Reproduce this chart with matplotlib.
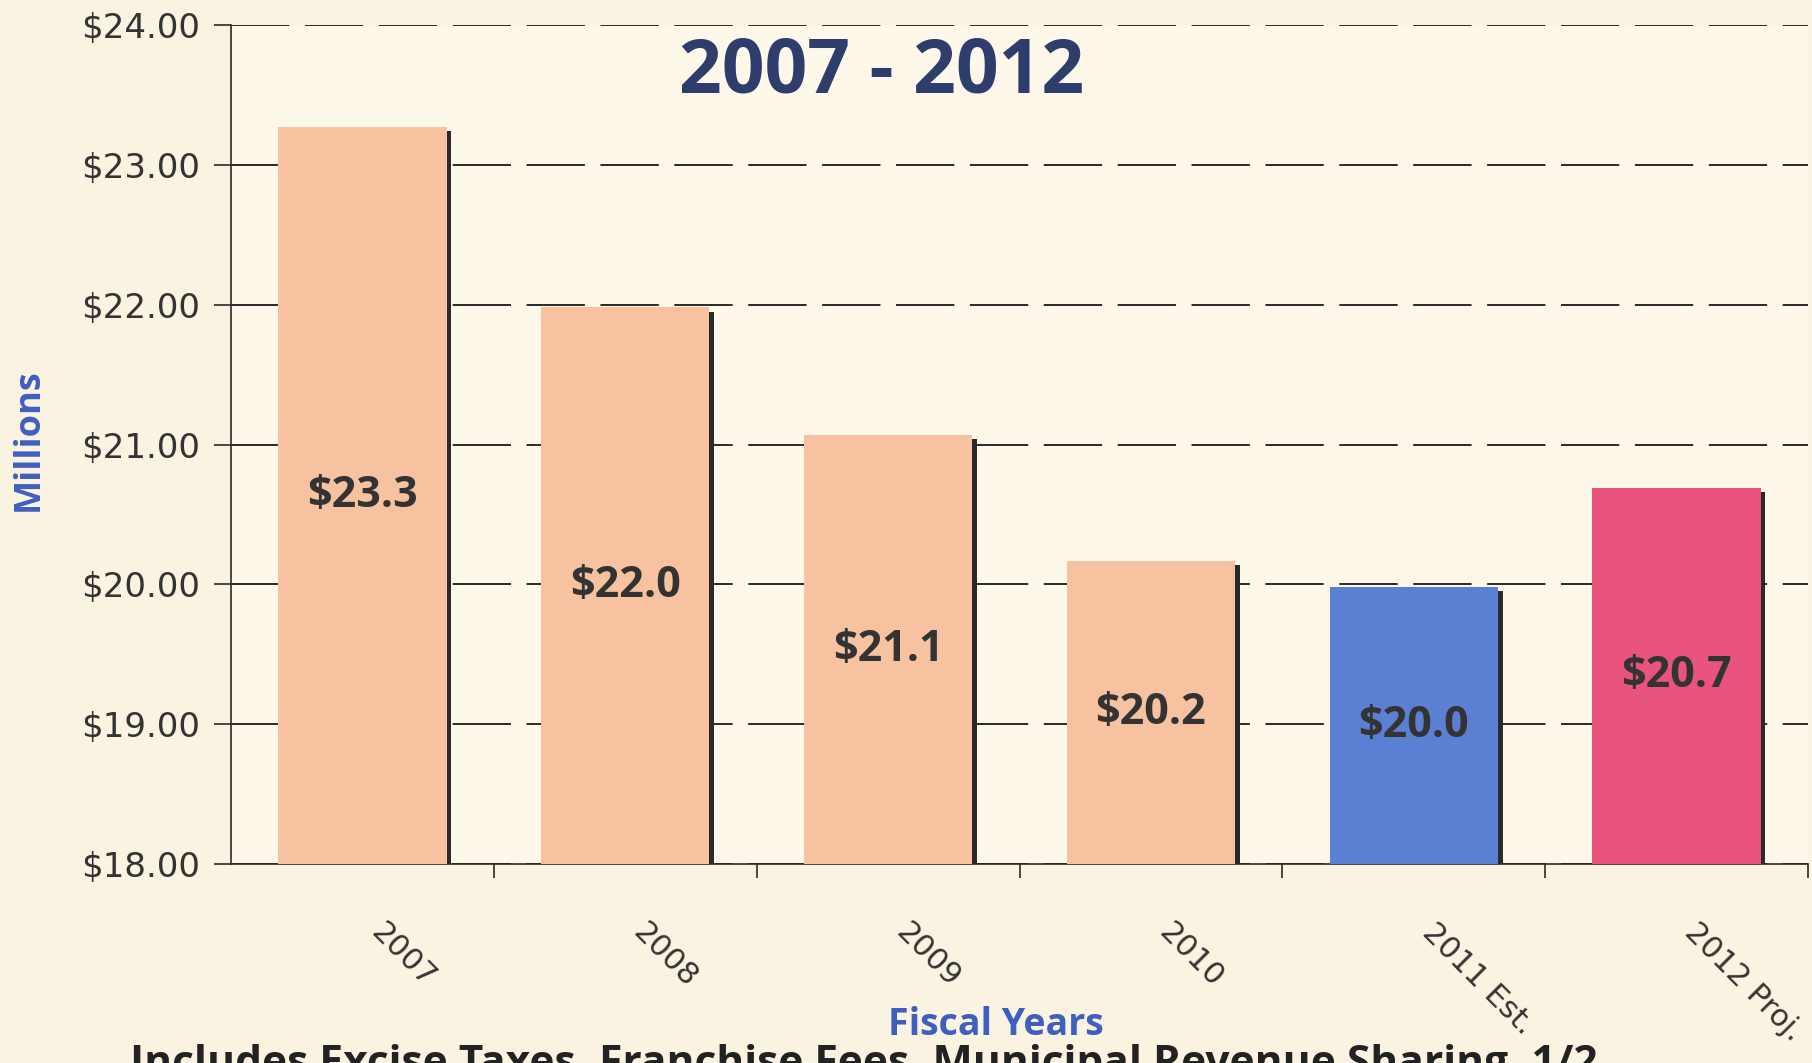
import matplotlib.pyplot as plt
from matplotlib.transforms import ScaledTranslation

years = ['2007', '2008', '2009', '2010', '2011 Est.', '2012 Proj.']
revenue = [23.27, 21.98, 21.07, 20.17, 19.98, 20.69]
bar_colors = ['#F6C29F', '#F6C29F', '#F6C29F', '#F6C29F', '#5B80D3', '#E9547D']
y_ticks = [18, 19, 20, 21, 22, 23, 24]

bg = '#FBF3E1'
txt = '#333333'
blue = '#3F5FBF'

fig = plt.figure(figsize=(18.12, 10.63), dpi=100, facecolor=bg)
ax = fig.add_axes([231 / 1812, 1 - 864 / 1063, 1577 / 1812, 839 / 1063])
ax.set_facecolor('#FDF8EA')

x = list(range(len(years)))
width = 0.64
base = 18.0

# dark edge on the right of each bar, then the bar itself
ax.bar([i + 0.018 for i in x], [v - base - 0.03 for v in revenue], width=width,
       bottom=base, color='#2A2A2A', zorder=2)
ax.bar(x, [v - base for v in revenue], width=width, bottom=base,
       color=bar_colors, zorder=3)

for i, v in zip(x, revenue):
    ax.text(i, (v + base) / 2, '$%.1f' % v, ha='center', va='center',
            fontsize=31, fontweight='bold', family='Open Sans', color=txt, zorder=4)

ax.set_xlim(-0.5, len(years) - 0.5)
ax.set_ylim(18, 24)
ax.set_yticks(y_ticks)
ax.set_yticklabels(['$%.2f' % t for t in y_ticks])
ax.yaxis.grid(True, color='#2A2A2A', linewidth=1.4, dashes=(30, 8))
ax.set_axisbelow(True)

ax.set_xticks(x)
ax.set_xticklabels(years, rotation=-45, ha='left', va='center', rotation_mode='anchor')
ax.set_xticks([i + 0.5 for i in x], minor=True)
ax.tick_params(axis='x', which='major', length=0, pad=46, labelsize=22, labelcolor=txt)
ax.tick_params(axis='x', which='minor', length=10, width=1.2, color='#2A2A2A', direction='out')
ax.tick_params(axis='y', length=12, width=1.2, color='#2A2A2A', pad=10, labelsize=24.5,
               labelcolor=txt)
for lab in ax.get_xticklabels():
    lab.set_transform(lab.get_transform() + ScaledTranslation(0.13, 0, fig.dpi_scale_trans))

for s in ['top', 'right']:
    ax.spines[s].set_visible(False)
ax.spines['left'].set_color('#2A2A2A')
ax.spines['bottom'].set_color('#2A2A2A')
ax.spines['left'].set_linewidth(1.2)
ax.spines['bottom'].set_linewidth(1.2)

fig.text(882 / 1812, 1 - 73 / 1063, '2007 - 2012', ha='center', va='center',
         fontsize=54, fontweight='bold', family='Open Sans', color='#2E3D6B')
fig.text(29 / 1812, 1 - 440 / 1063, 'Millions', rotation=90, ha='center', va='center',
         fontsize=26, fontweight='bold', family='Open Sans', color=blue)
fig.text(996 / 1812, 1 - 1025 / 1063, 'Fiscal Years', ha='center', va='center',
         fontsize=27, fontweight='bold', family='Open Sans', color=blue)
fig.text(130 / 1812, 1 - 1044 / 1063,
         'Includes Excise Taxes, Franchise Fees, Municipal Revenue Sharing, 1/2',
         ha='left', va='top', fontsize=30.6, fontweight='bold', family='Open Sans',
         color='#222222')

fig.savefig('out.png', dpi=100, facecolor=bg)
